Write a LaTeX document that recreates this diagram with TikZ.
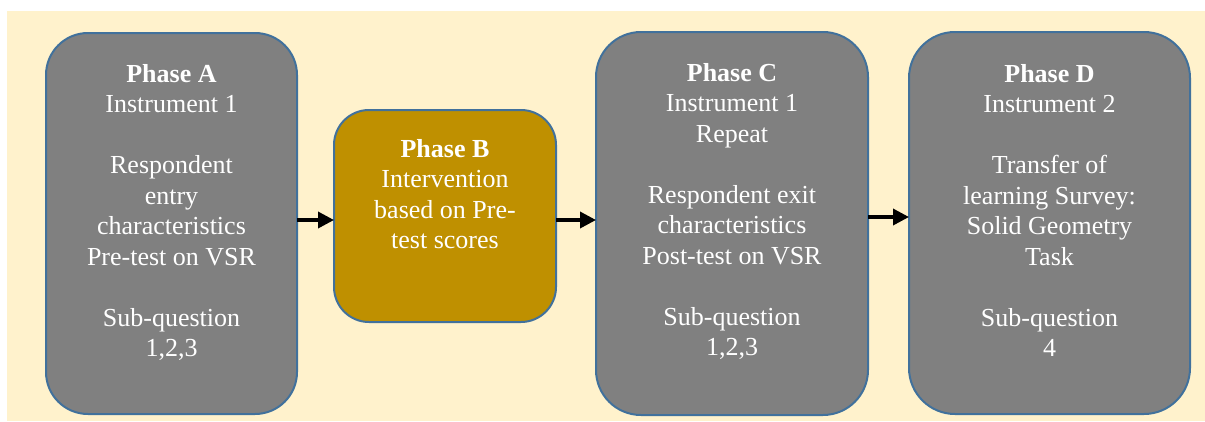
\documentclass[tikz,border=0pt]{standalone}
\usepackage{fontspec}
\setmainfont{Liberation Serif}
\usetikzlibrary{arrows.meta}
\definecolor{paper}{HTML}{FFF2CC}
\definecolor{boxgray}{HTML}{808080}
\definecolor{boxgold}{HTML}{BF9000}
\definecolor{edgeblue}{HTML}{41719C}
\tikzset{
  phase/.style={draw=edgeblue, line width=2pt, fill=boxgray, inner sep=0pt, outer sep=0pt},
  phasetext/.style={text=white, align=center, inner sep=0pt, anchor=north,
    font=\fontsize{26}{30.5}\selectfont},
  flow/.style={line width=3.5pt, -{Triangle[length=16pt,width=16pt]}},
}
\begin{document}
\begin{tikzpicture}[x=1pt, y=-1pt]
  \useasboundingbox (0,0) rectangle (1205,421);
  \fill[white] (0,0) rectangle (1205,421);
  \fill[paper] (7,11) rectangle (1205,421);

  % phase boxes
  \node[phase, rounded corners=42pt, minimum width=251pt, minimum height=381pt] (A) at (171.5,223.5) {};
  \node[phase, fill=boxgold, rounded corners=35pt, minimum width=222pt, minimum height=212pt] (B) at (445,216) {};
  \node[phase, rounded corners=45pt, minimum width=272pt, minimum height=383pt] (C) at (732,223.5) {};
  \node[phase, rounded corners=46pt, minimum width=281pt, minimum height=382pt] (D) at (1049.5,223) {};

  % box texts
  \node[phasetext] (At) at (171.5,64) {\textbf{Phase A}\\Instrument 1\\[30.5pt]Respondent\\entry\\characteristics\\Pre-test on VSR\\[30.5pt]Sub-question\\1,2,3};
  \node[phasetext] (Bt) at (445,139) {\textbf{Phase B}\\Intervention\\based on Pre-\\test scores};
  \node[phasetext] (Ct) at (732,63) {\textbf{Phase C}\\Instrument 1\\Repeat\\[30.5pt]Respondent exit\\characteristics\\Post-test on VSR\\[30.5pt]Sub-question\\1,2,3};
  \node[phasetext] (Dt) at (1049.5,64) {\textbf{Phase D}\\Instrument 2\\[30.5pt]Transfer of\\learning Survey:\\Solid Geometry\\Task\\[30.5pt]Sub-question\\4};

  % connectors
  \draw[flow] (A.east |- 0,220) -- (B.west |- 0,220);
  \draw[flow] (B.east |- 0,220) -- (C.west |- 0,220);
  \draw[flow] (C.east |- 0,217) -- (D.west |- 0,217);
\end{tikzpicture}
\end{document}
